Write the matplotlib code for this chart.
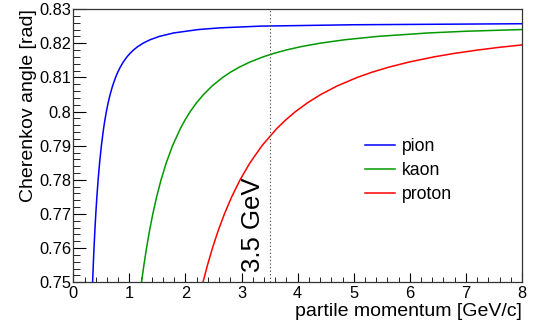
import matplotlib
matplotlib.use("Agg")
import matplotlib.pyplot as plt
from matplotlib.ticker import MultipleLocator, FormatStrFormatter

plt.rcParams['font.family'] = ['Liberation Sans', 'DejaVu Sans']

# values (momentum in GeV/c, angle in rad)
pion_p = [0.3439, 0.3558, 0.3691, 0.3840, 0.4008, 0.4201, 0.4424, 0.4688, 0.5005, 0.5396,
          0.5630, 0.5897, 0.6205, 0.6568, 0.7003, 0.7536, 0.7922, 0.8374, 0.8912, 0.9570,
          1.0100, 1.0727, 1.1488, 1.2440, 1.3674, 1.5363, 1.7896, 2.2308, 2.6242, 3.3418,
          5.0, 8.0]
pion_theta = [0.75, 0.755, 0.76, 0.765, 0.77, 0.775, 0.78, 0.785, 0.79, 0.795,
              0.7975, 0.80, 0.8025, 0.805, 0.8075, 0.81, 0.8115, 0.813, 0.8145, 0.816,
              0.817, 0.818, 0.819, 0.82, 0.821, 0.822, 0.823, 0.824, 0.8245, 0.825,
              0.8254, 0.8257]

kaon_p = [1.2162, 1.2584, 1.3053, 1.3579, 1.4174, 1.4856, 1.5646, 1.6578, 1.7699, 1.9084,
          1.9911, 2.0852, 2.1944, 2.3227, 2.4764, 2.6652, 2.8015, 2.9613, 3.1516, 3.3844,
          3.5716, 3.7936, 4.0627, 4.3993, 4.8356, 5.4329, 6.3286, 7.0, 8.0]
kaon_theta = [0.75, 0.755, 0.76, 0.765, 0.77, 0.775, 0.78, 0.785, 0.79, 0.795,
              0.7975, 0.80, 0.8025, 0.805, 0.8075, 0.81, 0.8115, 0.813, 0.8145, 0.816,
              0.817, 0.818, 0.819, 0.82, 0.821, 0.822, 0.823, 0.8235, 0.8240]

proton_p = [2.3116, 2.3917, 2.4808, 2.5808, 2.6939, 2.8234, 2.9736, 3.1507, 3.3639, 3.6270,
            3.7842, 3.9632, 4.1706, 4.4144, 4.7065, 5.0654, 5.3245, 5.6281, 5.9899, 6.4323,
            6.7880, 7.2100, 7.6, 8.0]
proton_theta = [0.75, 0.755, 0.76, 0.765, 0.77, 0.775, 0.78, 0.785, 0.79, 0.795,
                0.7975, 0.80, 0.8025, 0.805, 0.8075, 0.81, 0.8115, 0.813, 0.8145, 0.816,
                0.817, 0.818, 0.8188, 0.8195]

cut_p = 3.5
cut_label = "3.5 GeV"

fig = plt.figure(figsize=(5.43, 3.23), dpi=100)
ax = fig.add_axes([0.135, 0.126, 0.8263, 0.846])

ax.plot(pion_p, pion_theta, color='#0000ff', lw=1.1, label='pion')
ax.plot(kaon_p, kaon_theta, color='#009900', lw=1.1, label='kaon')
ax.plot(proton_p, proton_theta, color='#ff0000', lw=1.1, label='proton')

ax.axvline(cut_p, color='#555555', lw=0.8, linestyle=(0, (1.2, 2)))
ax.text(3.2, 0.7529, cut_label, rotation=90, ha='center', va='bottom', fontsize=18.5)

ax.set_xlim(0, 8)
ax.set_ylim(0.75, 0.83)
ax.xaxis.set_major_locator(MultipleLocator(1))
ax.xaxis.set_minor_locator(MultipleLocator(0.2))
ax.yaxis.set_major_locator(MultipleLocator(0.01))
ax.yaxis.set_minor_locator(MultipleLocator(0.002))
ax.yaxis.set_major_formatter(FormatStrFormatter('%g'))
ax.tick_params(which='both', direction='in', labelsize=11.8, top=False, right=False)
ax.tick_params(axis='x', which='major', length=6.5, pad=3)
ax.tick_params(axis='x', which='minor', length=3.5)
ax.tick_params(axis='y', which='major', length=9, pad=1.5)
ax.tick_params(axis='y', which='minor', length=5)
for s in ax.spines.values():
    s.set_linewidth(0.9)
    s.set_color('#333333')

ax.set_xlabel('partile momentum [GeV/c]', fontsize=14, ha='right', va='baseline')
ax.xaxis.set_label_coords(1.0, -0.123)
ax.set_ylabel('Cherenkov angle [rad]', fontsize=14, ha='right', va='baseline')
ax.yaxis.set_label_coords(-0.09, 1.0)

ax.legend(loc='upper left', bbox_to_anchor=(365 / 543, 1 - 138 / 323),
          bbox_transform=fig.transFigure, frameon=False, fontsize=12.7,
          handlelength=1.7, handletextpad=0.4, labelspacing=0.4, borderpad=0,
          borderaxespad=0)

fig.savefig('out.png', dpi=100)
